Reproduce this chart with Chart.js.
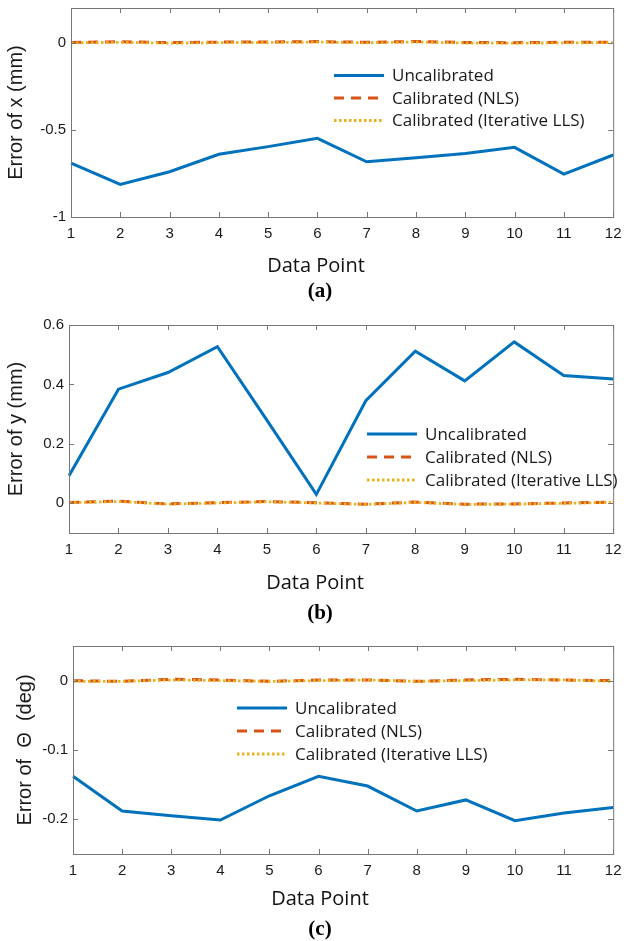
<!DOCTYPE html>
<html><head><meta charset="utf-8">
<script src="https://cdn.jsdelivr.net/npm/chart.js@4.4.1/dist/chart.umd.min.js"></script>
<style>
html,body{margin:0;padding:0;background:#fff;}
#wrap{position:relative;width:629px;height:941px;overflow:hidden;background:#fff;}
canvas{position:absolute;left:0;}
.xt{position:absolute;font-family:'Open Sans';font-size:20px;color:#111;transform:translate(-50%,-50%);white-space:nowrap;line-height:1;}
.cap{position:absolute;font-family:'Liberation Serif';font-weight:bold;font-size:21px;color:#000;transform:translate(-50%,-50%);line-height:1;}
</style></head><body>
<div id="wrap">
<canvas id="ca"></canvas>
<canvas id="cb"></canvas>
<canvas id="cc"></canvas>
<div class="xt" style="left:316px;top:265px;">Data Point</div>
<div class="cap" style="left:320px;top:290px;">(a)</div>
<div class="xt" style="left:315px;top:582px;">Data Point</div>
<div class="cap" style="left:320px;top:612px;">(b)</div>
<div class="xt" style="left:320px;top:898px;">Data Point</div>
<div class="cap" style="left:320px;top:928px;">(c)</div>
</div>
<script>
// ---------- data ----------
const dataPoints = ['1','2','3','4','5','6','7','8','9','10','11','12'];
const seriesNames = ['Uncalibrated', 'Calibrated (NLS)', 'Calibrated (Iterative LLS)'];

const errXUncal = [-0.69, -0.813, -0.74, -0.64, -0.596, -0.548, -0.683, -0.66, -0.635, -0.60, -0.754, -0.644];
const errXNLS   = [0.002, 0.006, 0.001, 0.004, 0.005, 0.007, 0.003, 0.008, 0.002, 0.001, 0.003, 0.004];
const errXLLS   = [0.000, 0.003, -0.002, 0.001, 0.002, 0.004, 0.000, 0.005, -0.001, -0.002, 0.000, 0.001];

const errYUncal = [0.093, 0.384, 0.44, 0.527, 0.28, 0.03, 0.345, 0.512, 0.412, 0.543, 0.43, 0.418];
const errYNLS   = [0.003, 0.007, -0.002, 0.002, 0.006, 0.002, -0.003, 0.004, -0.003, -0.002, 0.001, 0.004];
const errYLLS   = [0.002, 0.006, -0.003, 0.001, 0.005, 0.001, -0.004, 0.003, -0.004, -0.003, 0.000, 0.003];

const errThUncal = [-0.138, -0.188, -0.195, -0.201, -0.166, -0.138, -0.152, -0.188, -0.172, -0.202, -0.191, -0.183];
const errThNLS   = [0.000, -0.001, 0.002, 0.001, -0.001, 0.001, 0.001, -0.001, 0.001, 0.002, 0.001, 0.000];
const errThLLS   = [-0.001, -0.001, 0.001, 0.000, -0.001, 0.000, 0.001, -0.001, 0.000, 0.001, 0.001, -0.001];

const yTicksA = [-1, -0.5, 0];
const yTicksB = [0, 0.2, 0.4, 0.6];
const yTicksC = [-0.2, -0.1, 0];

// ---------- plugins ----------
const frameTicks = {
  id: 'frameTicks',
  afterDatasetsDraw(chart) {
    const {ctx, chartArea: a, scales: {x, y}} = chart;
    ctx.save();
    ctx.strokeStyle = '#777777';
    ctx.lineWidth = 1;
    ctx.setLineDash([]);
    ctx.strokeRect(a.left + 0.5, a.top + 0.5, a.right - a.left, a.bottom - a.top);
    const tk = 5;
    ctx.beginPath();
    x.ticks.forEach((t, i) => {
      const px = Math.round(x.getPixelForTick(i)) + 0.5;
      ctx.moveTo(px, a.bottom); ctx.lineTo(px, a.bottom - tk);
      ctx.moveTo(px, a.top); ctx.lineTo(px, a.top + tk);
    });
    y.ticks.forEach((t, i) => {
      const py = Math.round(y.getPixelForTick(i)) + 0.5;
      ctx.moveTo(a.left, py); ctx.lineTo(a.left + tk, py);
      ctx.moveTo(a.right, py); ctx.lineTo(a.right - tk, py);
    });
    ctx.stroke();
    ctx.restore();
  }
};

const inLegend = {
  id: 'inLegend',
  afterDatasetsDraw(chart, args, opts) {
    const {ctx, chartArea: a} = chart;
    ctx.save();
    ctx.font = '17px "Open Sans"';
    ctx.textBaseline = 'middle';
    ctx.textAlign = 'left';
    chart.data.datasets.forEach((ds, i) => {
      const y0 = a.top + opts.dy + i * opts.gap;
      const x0 = a.left + opts.dx;
      ctx.strokeStyle = ds.borderColor;
      ctx.lineWidth = ds.borderWidth;
      ctx.setLineDash(ds.borderDash || []);
      ctx.beginPath(); ctx.moveTo(x0, y0); ctx.lineTo(x0 + opts.len, y0); ctx.stroke();
      ctx.setLineDash([]);
      ctx.fillStyle = '#1a1a1a';
      ctx.fillText(ds.label, x0 + opts.len + opts.textGap, y0 + 1);
    });
    ctx.restore();
  }
};

function makePanel(id, geo, uncal, nls, lls, yMin, yMax, yTicks, yTitle, leg) {
  const cv = document.getElementById(id);
  const top = geo.T - 15;
  const h = (geo.B + 40) - top;
  cv.width = 629; cv.height = h;
  cv.style.width = '629px'; cv.style.height = h + 'px';
  cv.style.top = top + 'px';
  const tickFont = {family: 'Liberation Sans', size: 15};
  new Chart(cv, {
    type: 'line',
    data: {
      labels: dataPoints,
      datasets: [
        {label: seriesNames[0], data: uncal, borderColor: '#0072BD', borderWidth: 3, pointRadius: 0, tension: 0, order: 2, fill: false},
        {label: seriesNames[1], data: nls, borderColor: '#D95319', borderWidth: 3, borderDash: [10, 7], pointRadius: 0, tension: 0, order: 1, fill: false},
        {label: seriesNames[2], data: lls, borderColor: '#EDB120', borderWidth: 2.8, borderDash: [2.5, 2.5], pointRadius: 0, tension: 0, order: 0, fill: false}
      ]
    },
    options: {
      responsive: false,
      animation: false,
      devicePixelRatio: 1,
      events: [],
      layout: {padding: {top: 15, right: 629 - geo.R, left: 0, bottom: 0}},
      plugins: {legend: {display: false}, tooltip: {enabled: false}, inLegend: leg},
      scales: {
        x: {
          type: 'category', offset: false,
          grid: {display: false, drawTicks: false}, border: {display: false},
          ticks: {autoSkip: false, maxRotation: 0, minRotation: 0, padding: 7.5, color: '#1a1a1a', font: tickFont},
          afterFit(s) { s.height = 40; }
        },
        y: {
          type: 'linear', min: yMin, max: yMax,
          grid: {display: false, drawTicks: false}, border: {display: false},
          afterBuildTicks(s) { s.ticks = yTicks.map(v => ({value: v})); },
          ticks: {padding: 5, color: '#1a1a1a', font: tickFont, callback: v => String(v)},
          title: {display: true, text: yTitle, color: '#1a1a1a', font: {family: 'Liberation Sans', size: 20}, padding: {top: geo.tp, bottom: 0}},
          afterFit(s) { s.width = geo.L; }
        }
      }
    },
    plugins: [frameTicks, inLegend]
  });
}

makePanel('ca', {L: 71, R: 617, T: 8, B: 217, tp: 4}, errXUncal, errXNLS, errXLLS, -1, 0.2, yTicksA,
  'Error of x (mm)', {dx: 263, dy: 67.5, gap: 22.5, len: 50, textGap: 8});
makePanel('cb', {L: 69, R: 618, T: 325, B: 533, tp: 4.5}, errYUncal, errYNLS, errYLLS, -0.1, 0.6, yTicksB,
  'Error of y (mm)', {dx: 298, dy: 109, gap: 23, len: 50, textGap: 8});
makePanel('cc', {L: 73, R: 620, T: 646, B: 854, tp: 13}, errThUncal, errThNLS, errThLLS, -0.25, 0.05, yTicksC,
  'Error of  Θ  (deg)', {dx: 164, dy: 62, gap: 23, len: 50, textGap: 8});
</script>
</body></html>
